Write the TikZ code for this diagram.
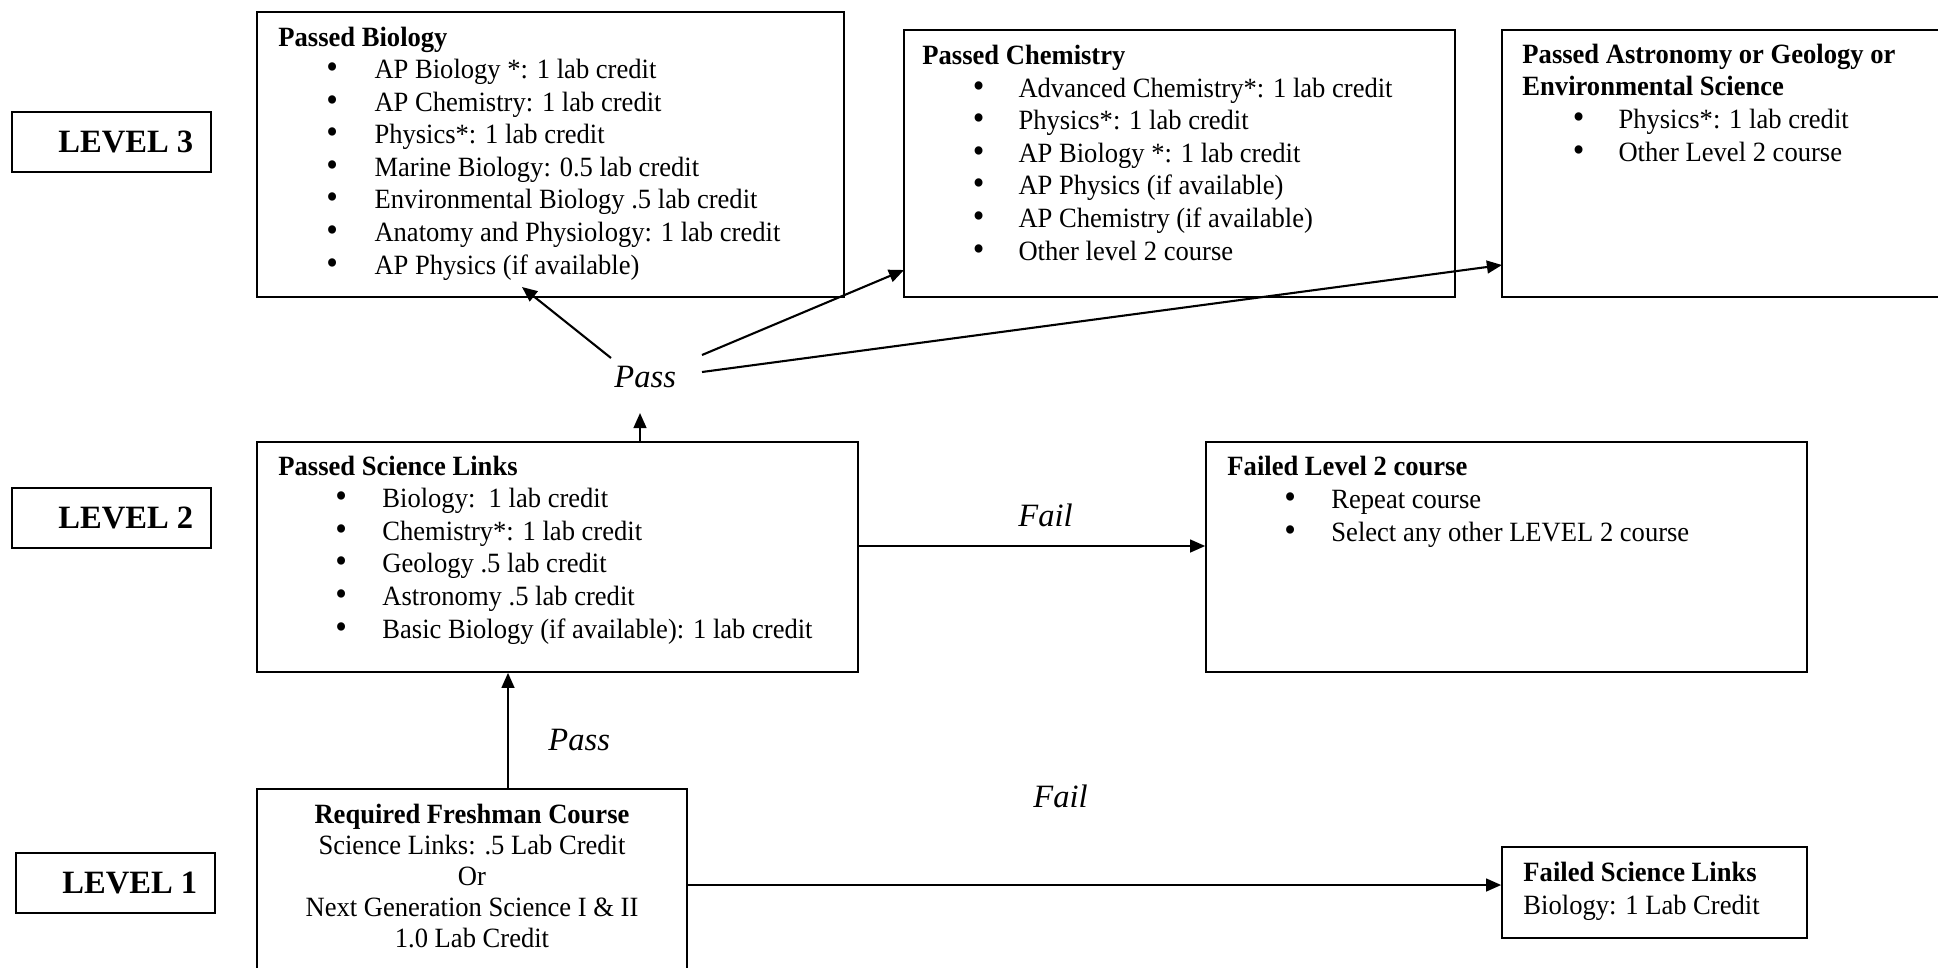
\documentclass[tikz,border=0pt]{standalone}
\usepackage{fontspec}
\setmainfont{Liberation Serif}
\newfontfamily\bodyfont[FakeStretch=0.952]{Liberation Serif}
\usetikzlibrary{arrows.meta,fit}
\newcommand\bitem[3]{\hspace*{#1}\makebox[\dimexpr#2-#1\relax][l]{\scalebox{1.25}{\textbullet}}#3}
\begin{document}
\begin{tikzpicture}[x=0.43pt,y=-0.43pt,
 box/.style={draw,line width=0.7pt,inner sep=0pt},
 txt/.style={inner sep=0pt,align=left,anchor=base west,font=\bodyfont\fontsize{12}{14}\selectfont},
 lvl/.style={inner sep=0pt,anchor=base west,font=\fontsize{14}{16}\selectfont\bfseries},
 lbl/.style={inner sep=0pt,anchor=base west,font=\fontsize{14}{16}\selectfont\itshape},
 arr/.style={line width=0.9pt,-{Triangle[length=6.5pt,width=5.5pt]}}]
\useasboundingbox (0,0) rectangle (1938,967);
% level boxes
\node[box,fit={(12,112)(211,172)}] (l3) {};
\node[box,fit={(12,488)(211,548)}] (l2) {};
\node[box,fit={(16,853)(215,913)}] (l1) {};
\node[lvl] (l3t) at (58,152) {LEVEL 3};
\node[lvl] (l2t) at (58,528) {LEVEL 2};
\node[lvl] (l1t) at (62,893) {LEVEL 1};
% main boxes
\node[box,fit={(257,12)(844,297)}] (bio) {};
\node[box,fit={(904,30)(1455,297)}] (chem) {};
\node[box,fit={(1502,30)(1960,297)}] (astro) {};
\node[box,fit={(257,442)(858,672)}] (sl) {};
\node[box,fit={(1206,442)(1807,672)}] (fl2) {};
\node[box,fit={(257,789)(687,990)}] (fr) {};
\node[box,fit={(1502,847)(1807,938)}] (fsl) {};
% texts (anchored at the baseline of the last line)
\node[txt] (biot) at (278,274) {\textbf{Passed Biology}\\
\bitem{20.6pt}{41.3pt}{AP Biology *: 1 lab credit}\\
\bitem{20.6pt}{41.3pt}{AP Chemistry: 1 lab credit}\\
\bitem{20.6pt}{41.3pt}{Physics*: 1 lab credit}\\
\bitem{20.6pt}{41.3pt}{Marine Biology: 0.5 lab credit}\\
\bitem{20.6pt}{41.3pt}{Environmental Biology .5 lab credit}\\
\bitem{20.6pt}{41.3pt}{Anatomy and Physiology: 1 lab credit}\\
\bitem{20.6pt}{41.3pt}{AP Physics (if available)}};
\node[txt] (chemt) at (922,260) {\textbf{Passed Chemistry}\\
\bitem{21.7pt}{41.3pt}{Advanced Chemistry*: 1 lab credit}\\
\bitem{21.7pt}{41.3pt}{Physics*: 1 lab credit}\\
\bitem{21.7pt}{41.3pt}{AP Biology *: 1 lab credit}\\
\bitem{21.7pt}{41.3pt}{AP Physics (if available)}\\
\bitem{21.7pt}{41.3pt}{AP Chemistry (if available)}\\
\bitem{21.7pt}{41.3pt}{Other level 2 course}};
\node[txt] (astrot) at (1522,161) {\textbf{Passed Astronomy or Geology or}\\
\textbf{Environmental Science}\\
\bitem{21.7pt}{41.3pt}{Physics*: 1 lab credit}\\
\bitem{21.7pt}{41.3pt}{Other Level 2 course}};
\node[txt] (slt) at (278,638) {\textbf{Passed Science Links}\\
\bitem{24.5pt}{44.7pt}{Biology:\ \ 1 lab credit}\\
\bitem{24.5pt}{44.7pt}{Chemistry*: 1 lab credit}\\
\bitem{24.5pt}{44.7pt}{Geology .5 lab credit}\\
\bitem{24.5pt}{44.7pt}{Astronomy .5 lab credit}\\
\bitem{24.5pt}{44.7pt}{Basic Biology (if available): 1 lab credit}};
\node[txt] (fl2t) at (1227,541) {\textbf{Failed Level 2 course}\\
\bitem{24.5pt}{44.7pt}{Repeat course}\\
\bitem{24.5pt}{44.7pt}{Select any other LEVEL 2 course}};
\node[txt,align=center,anchor=base,font=\bodyfont\fontsize{12}{13.3}\selectfont] (frt) at (472,947) {\textbf{Required Freshman Course}\\
Science Links: .5 Lab Credit\\
Or\\
Next Generation Science I \& II\\
1.0 Lab Credit};
\node[txt] (fslt) at (1523,914) {\textbf{Failed Science Links}\\
Biology: 1 Lab Credit};
% labels
\node[lbl] (pass1) at (614,387) {Pass};
\node[lbl] (fail1) at (1018,526) {Fail};
\node[lbl] (pass2) at (548,750) {Pass};
\node[lbl] (fail2) at (1033,807) {Fail};
% connector points
\coordinate (pu) at (640,413);
\coordinate (s1) at (611,358);
\coordinate (s2) at (702,355);
\coordinate (s3) at (702,372);
\coordinate (e1) at (522,287);
\coordinate (e2) at (904,270);
\coordinate (e3) at (1502,265);
\coordinate (fy) at (0,546);
\coordinate (px) at (508,0);
\coordinate (fy1) at (0,885);
% connectors
\draw[arr] (sl.north -| pu) -- (pu);
\draw[arr] (s1) -- (e1);
\draw[arr] (s2) -- (e2);
\draw[arr] (s3) -- (e3);
\draw[arr] (sl.east |- fy) -- (fl2.west |- fy);
\draw[arr] (fr.north -| px) -- (sl.south -| px);
\draw[arr] (fr.east |- fy1) -- (fsl.west |- fy1);
\end{tikzpicture}
\end{document}
